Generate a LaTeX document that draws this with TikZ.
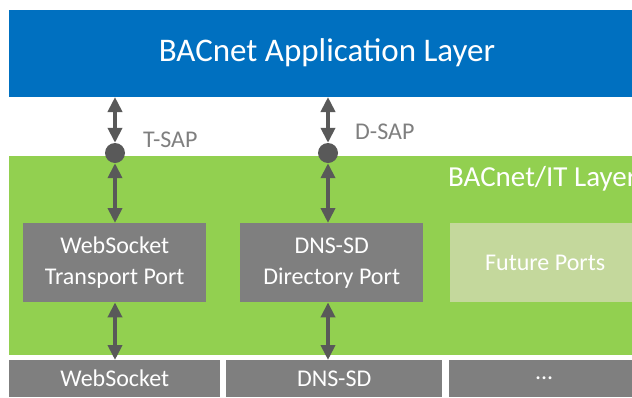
\documentclass[tikz,border=0pt]{standalone}
\usepackage{fontspec}
\setmainfont{Carlito}
\usetikzlibrary{arrows.meta}
\definecolor{appblue}{HTML}{0070C0}
\definecolor{itgreen}{HTML}{92D050}
\definecolor{futgreen}{HTML}{C4D89C}
\definecolor{boxgray}{HTML}{7F7F7F}
\definecolor{arrowgray}{HTML}{595959}
\tikzset{
  x=1pt, y=-1pt,
  portbox/.style={fill=boxgray, text=white, minimum width=183pt, minimum height=79pt,
    inner sep=0pt, align=center, font=\fontsize{24}{31}\selectfont, anchor=north west},
  basebox/.style={fill=boxgray, text=white, minimum height=37pt, inner sep=0pt,
    font=\fontsize{24}{28}\selectfont, anchor=north west},
  biarrow/.style={arrowgray, line width=4.5pt,
    {Triangle[width=14pt,length=15pt]}-{Triangle[width=14pt,length=15pt]}},
  sapdot/.style={circle, fill=arrowgray, minimum size=20pt, inner sep=0pt},
  saplabel/.style={text=boxgray, font=\fontsize{24}{28}\selectfont, anchor=west, inner sep=0pt}
}
\begin{document}
\begin{tikzpicture}
\useasboundingbox (0,0) rectangle (632,397);
\begin{scope}
\clip (0,0) rectangle (632,397);
% application layer
\fill[appblue] (9,10) rectangle (640,97);
\node[text=white, font=\fontsize{33}{38}\selectfont] (app) at (327,53) {BACnet Application Layer};
\coordinate (appbottomL) at (115,97);
\coordinate (appbottomM) at (328,97);
% BACnet/IT layer
\fill[itgreen] (9,156) rectangle (640,355);
\node[text=white, font=\fontsize{29}{34}\selectfont, anchor=west, inner sep=0pt] (itlabel) at (448,179) {BACnet/IT Layer};
% ports
\node[portbox] (wsport) at (23,223) {WebSocket\\Transport Port};
\node[portbox] (dnsport) at (240,223) {DNS-SD\\Directory Port};
\node[portbox, fill=futgreen, minimum width=190pt] (futport) at (450,223) {Future Ports};
% underlying protocols
\node[basebox, minimum width=211pt] (ws) at (9,360) {WebSocket};
\node[basebox, minimum width=216pt] (dns) at (226,360) {DNS-SD};
\node[basebox, minimum width=190pt] (more) at (449,360) {...};
% service access points
\node[sapdot] (tsap) at (115,153) {};
\node[sapdot] (dsap) at (328,153) {};
\node[saplabel] (tsaplbl) at (143,140) {T-SAP};
\node[saplabel] (dsaplbl) at (355,132) {D-SAP};
\end{scope}
% connectors
\draw[biarrow] (appbottomL) -- (tsap.north);
\draw[biarrow] (appbottomM) -- (dsap.north);
\draw[biarrow] (tsap.south) -- (wsport.north -| tsap);
\draw[biarrow] (dsap.south) -- (dnsport.north -| dsap);
\draw[biarrow] (wsport.south -| tsap) -- (ws.north -| tsap);
\draw[biarrow] (dnsport.south -| dsap) -- (dns.north -| dsap);
\end{tikzpicture}
\end{document}
